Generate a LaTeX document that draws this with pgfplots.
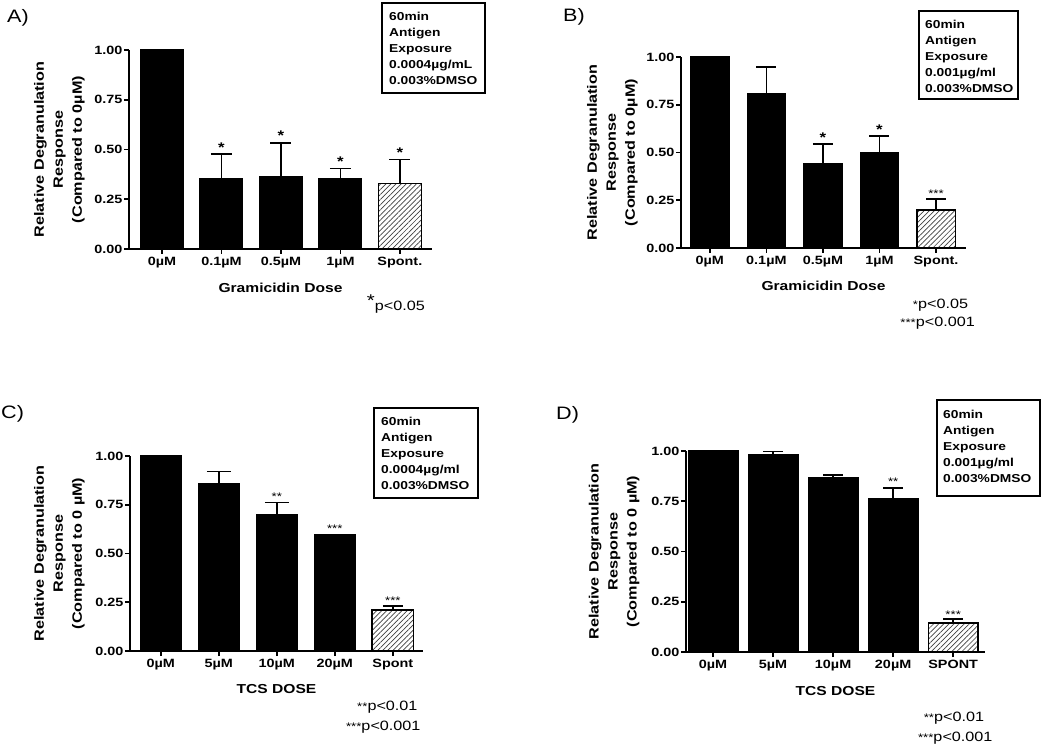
\documentclass[border=0pt]{standalone}
\usepackage{fontspec}
\setmainfont{Liberation Sans}[FakeStretch=1.2]
\usepackage{pgfplots}
\pgfplotsset{compat=1.18}
\usetikzlibrary{patterns.meta}

\pgfplotsset{
  panel/.style={
    scale only axis,
    axis lines*=left,
    axis line style={line width=1.8pt,-},
    ymin=0, ymax=1,
    ytick={0,0.25,0.5,0.75,1},
    yticklabel style={inner xsep=1.5pt, /pgf/number format/fixed, /pgf/number format/fixed zerofill, /pgf/number format/precision=2, /pgf/number format/assume math mode=true},
    xtick={0,1,2,3,4},
    tick align=outside,
    major tick length=5pt,
    every tick/.style={black, line width=1.6pt},
    ticklabel style={font=\fontsize{12}{12}\selectfont\bfseries},
    xlabel style={at={(axis description cs:0.5,0)}, anchor=base, yshift=-44pt, font=\fontsize{13}{13}\selectfont\bfseries},
    ylabel style={anchor=south, align=center, font=\fontsize{13.5}{19}\selectfont\bfseries},
    ybar, bar shift=0pt,
    clip=false,
  },
  blackbar/.style={fill=black, draw=black, line width=1.2pt,
    error bars/.cd, y dir=plus, y explicit,
    error bar style={line width=1.7pt, black},
    error mark options={rotate=90, line width=1.7pt, black, mark size=#1}},
  spontbar/.style={fill=white, draw=black, line width=1.5pt,
    postaction={pattern={Lines[angle=45,distance=3.6pt,line width=0.7pt]}, pattern color=black!75},
    error bars/.cd, y dir=plus, y explicit,
    error bar style={line width=1.7pt, black},
    error mark options={rotate=90, line width=1.7pt, black, mark size=#1}},
}
\newcommand{\bigast}{\fontsize{14}{14}\selectfont\bfseries *}
\newcommand{\smstar}[1]{\fontsize{11}{11}\selectfont #1}

\begin{document}
\begin{tikzpicture}[x=1pt,y=1pt]
\useasboundingbox (0pt,0pt) rectangle (1050pt,748pt);

% ---------------- Panel A ----------------
\begin{axis}[panel, at={(129pt,499pt)}, anchor=south west, width=303pt, height=199pt,
  xmin=-0.555, xmax=4.54, bar width=0.72,
  xticklabels={0µM,0.1µM,0.5µM,1µM,Spont.},
  xlabel={Gramicidin Dose},
  ylabel={Relative Degranulation\\Response\\(Compared to 0µM)},
  ylabel style={at={(axis description cs:-0.135,0.5)}}]
\addplot[blackbar=10.5pt] table[x=x,y=y,y error=e] {
x y e
0 1.000 0
1 0.355 0.122
2 0.362 0.171
3 0.355 0.050
};
\addplot[spontbar=10.5pt] table[x=x,y=y,y error=e] {
x y e
4 0.330 0.119
};
\node[anchor=base, yshift=2pt] at (axis cs:1,0.477) {\bigast};
\node[anchor=base, yshift=2pt] at (axis cs:2,0.533) {\bigast};
\node[anchor=base, yshift=2pt] at (axis cs:3,0.405) {\bigast};
\node[anchor=base, yshift=2pt] at (axis cs:4,0.449) {\bigast};
\end{axis}

% ---------------- Panel B ----------------
\begin{axis}[panel, at={(681pt,500pt)}, anchor=south west, width=285pt, height=191pt,
  xmin=-0.51, xmax=4.53, bar width=0.68,
  xticklabels={0µM,0.1µM,0.5µM,1µM,Spont.},
  xlabel={Gramicidin Dose},
  xlabel style={yshift=1pt},
  ylabel={Relative Degranulation\\Response\\(Compared to 0µM)},
  ylabel style={at={(axis description cs:-0.140,0.5)}}]
\addplot[blackbar=10pt] table[x=x,y=y,y error=e] {
x y e
0 1.000 0
1 0.806 0.140
2 0.441 0.102
3 0.497 0.088
};
\addplot[spontbar=10pt] table[x=x,y=y,y error=e] {
x y e
4 0.199 0.059
};
\node[anchor=base, yshift=2pt] at (axis cs:2,0.543) {\bigast};
\node[anchor=base, yshift=2pt] at (axis cs:3,0.585) {\bigast};
\node[anchor=base, yshift=1pt] at (axis cs:4,0.258) {\smstar{***}};
\end{axis}

% ---------------- Panel C ----------------
\begin{axis}[panel, at={(130pt,97pt)}, anchor=south west, width=293pt, height=195pt,
  xmin=-0.53, xmax=4.52, bar width=0.71,
  xticklabels={0µM,5µM,10µM,20µM,Spont},
  xlabel={TCS DOSE},
  xlabel style={yshift=2pt},
  ylabel={Relative Degranulation\\Response\\(Compared to 0 µM)},
  ylabel style={at={(axis description cs:-0.143,0.5)}}]
\addplot[blackbar=12pt] table[x=x,y=y,y error=e] {
x y e
0 1.000 0
1 0.861 0.059
2 0.697 0.065
3 0.596 0.000
};
\addplot[spontbar=10pt] table[x=x,y=y,y error=e] {
x y e
4 0.211 0.020
};
\node[anchor=base, yshift=2pt] at (axis cs:2,0.762) {\smstar{**}};
\node[anchor=base, yshift=2pt] at (axis cs:3,0.596) {\smstar{***}};
\node[anchor=base, yshift=1pt] at (axis cs:4,0.231) {\smstar{***}};
\end{axis}

% ---------------- Panel D ----------------
\begin{axis}[panel, at={(686pt,96pt)}, anchor=south west, width=299pt, height=201pt,
  xmin=-0.45, xmax=4.53, bar width=0.83,
  xticklabels={0µM,5µM,10µM,20µM,SPONT},
  xlabel={TCS DOSE},
  xlabel style={yshift=1pt},
  ylabel={Relative Degranulation\\Response\\(Compared to 0 µM)},
  ylabel style={at={(axis description cs:-0.144,0.5)}}]
\addplot[blackbar=10pt] table[x=x,y=y,y error=e] {
x y e
0 1.000 0
1 0.982 0.016
2 0.866 0.015
3 0.765 0.051
};
\addplot[spontbar=10pt] table[x=x,y=y,y error=e] {
x y e
4 0.144 0.020
};
\node[anchor=base, yshift=2pt] at (axis cs:3,0.816) {\smstar{**}};
\node[anchor=base, yshift=1pt] at (axis cs:4,0.164) {\smstar{***}};
\end{axis}

% ---------------- Panel letters ----------------
\begin{scope}[every node/.style={font=\fontsize{18}{18}\selectfont, anchor=base west, inner sep=0pt}]
\node at (7pt,725pt) {A)};
\node at (563pt,726.3pt) {B)};
\node at (1pt,329pt) {C)};
\node at (556pt,328pt) {D)};
\end{scope}

% ---------------- Condition boxes ----------------
\begin{scope}[every node/.style={font=\fontsize{11.5}{16}\selectfont\bfseries, anchor=north west, align=left, inner sep=0pt}]
\draw[line width=1.6pt] (382pt,745pt) rectangle (485pt,655pt);
\node at (389pt,736pt) {60min\\Antigen\\Exposure\\0.0004µg/mL\\0.003\%DMSO};
\draw[line width=1.6pt] (919pt,737pt) rectangle (1018pt,649pt);
\node at (925pt,727.6pt) {60min\\Antigen\\Exposure\\0.001µg/ml\\0.003\%DMSO};
\draw[line width=1.6pt] (374pt,340pt) rectangle (478pt,250pt);
\node at (381pt,330.6pt) {60min\\Antigen\\Exposure\\0.0004µg/ml\\0.003\%DMSO};
\draw[line width=1.6pt] (937pt,348pt) rectangle (1040pt,252pt);
\node at (943pt,337.6pt) {60min\\Antigen\\Exposure\\0.001µg/ml\\0.003\%DMSO};
\end{scope}

% ---------------- Footnotes ----------------
\begin{scope}[every node/.style={font=\fontsize{13.5}{13.5}\selectfont, anchor=base east, inner sep=0pt}]
\node at (425pt,437pt) {\raisebox{4pt}{\fontsize{17}{17}\selectfont *}p<0.05};
\node at (968.3pt,439.7pt) {{\fontsize{11}{11}\selectfont *}p<0.05};
\node at (975pt,421.3pt) {{\fontsize{11}{11}\selectfont ***}p<0.001};
\node at (417.7pt,38pt) {{\fontsize{11}{11}\selectfont **}p<0.01};
\node at (420.7pt,17.3pt) {{\fontsize{11}{11}\selectfont ***}p<0.001};
\node at (984.3pt,26.3pt) {{\fontsize{11}{11}\selectfont **}p<0.01};
\node at (992.7pt,6.3pt) {{\fontsize{11}{11}\selectfont ***}p<0.001};
\end{scope}
\end{tikzpicture}
\end{document}
